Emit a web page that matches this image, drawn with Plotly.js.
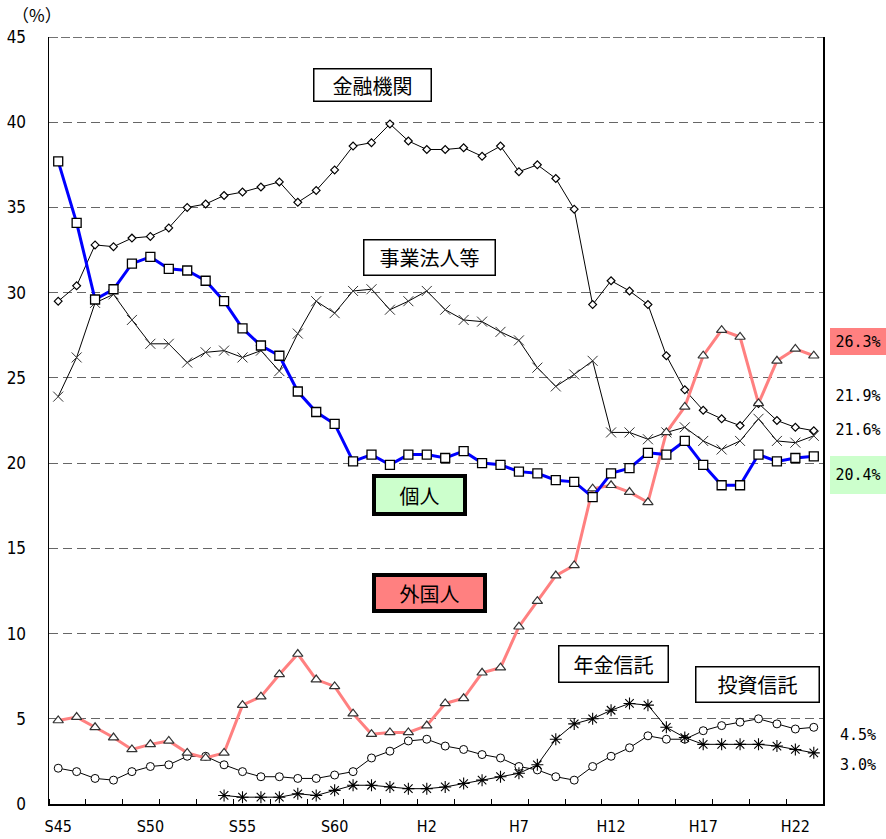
<!DOCTYPE html>
<html>
<head>
<meta charset="utf-8">
<script src="https://cdn.plot.ly/plotly-3.0.1.min.js"></script>
<style>body{margin:0;padding:0;background:#fff;} #chart{width:886px;height:839px;}</style>
</head>
<body>
<div id="chart"></div>
<script>
// Years 1970 (S45) .. 2011 (H23)
const years = [1970,1971,1972,1973,1974,1975,1976,1977,1978,1979,1980,1981,1982,1983,1984,1985,1986,1987,1988,1989,1990,1991,1992,1993,1994,1995,1996,1997,1998,1999,2000,2001,2002,2003,2004,2005,2006,2007,2008,2009,2010,2011];
const tickYears = [1970,1975,1980,1985,1990,1995,2000,2005,2010];
const tickLabels = ['S45','S50','S55','S60','H2','H7','H12','H17','H22'];

const financial = [29.5,30.4,32.8,32.7,33.2,33.3,33.8,35.0,35.2,35.7,35.9,36.2,36.5,35.3,36.0,37.2,38.6,38.8,39.9,38.9,38.4,38.4,38.5,38.0,38.6,37.1,37.5,36.7,34.9,29.3,30.7,30.1,29.3,26.3,24.3,23.1,22.6,22.2,23.5,22.5,22.1,21.9];
const business = [23.9,26.2,29.4,29.9,28.4,27.0,27.0,25.9,26.5,26.6,26.2,26.6,25.4,27.6,29.5,28.8,30.1,30.2,29.0,29.5,30.1,29.0,28.4,28.3,27.7,27.2,25.6,24.5,25.2,26.0,21.8,21.8,21.4,21.8,22.1,21.3,20.8,21.3,22.6,21.3,21.2,21.6];
const individuals = [37.7,34.1,29.6,30.2,31.7,32.1,31.4,31.3,30.7,29.5,27.9,26.9,26.3,24.2,23.0,22.3,20.1,20.5,19.9,20.5,20.5,20.3,20.7,20.0,19.9,19.5,19.4,19.0,18.9,18.0,19.4,19.7,20.6,20.5,21.3,19.9,18.7,18.7,20.5,20.1,20.3,20.4];
const foreigners = [4.9,5.1,4.5,3.9,3.2,3.5,3.7,3.0,2.7,3.0,5.8,6.3,7.6,8.8,7.3,6.9,5.3,4.1,4.2,4.2,4.6,5.9,6.2,7.7,8.0,10.4,11.9,13.4,14.0,18.5,18.7,18.3,17.7,21.8,23.3,26.3,27.8,27.4,23.5,26.0,26.7,26.3];
const investmentTrusts = [2.1,1.9,1.5,1.4,1.9,2.2,2.3,2.8,2.8,2.3,1.9,1.6,1.6,1.5,1.5,1.7,1.9,2.7,3.1,3.7,3.8,3.4,3.2,2.9,2.7,2.2,2.0,1.6,1.4,2.2,2.8,3.3,4.0,3.8,3.8,4.3,4.6,4.8,5.0,4.7,4.4,4.5];
// Pension trusts from 1979 (S54)
const pensionYears = years.slice(9);
const pensionTrusts = [0.5,0.4,0.4,0.4,0.6,0.5,0.8,1.1,1.1,1.0,0.9,0.9,1.0,1.2,1.4,1.6,1.8,2.3,3.8,4.7,5.0,5.5,5.9,5.8,4.5,3.9,3.5,3.5,3.5,3.5,3.4,3.2,3.0];

const traces = [
  {x: years, y: investmentTrusts, name:'投資信託', mode:'lines+markers',
   line:{color:'#000', width:1},
   marker:{symbol:'circle', size:8, color:'#fff', line:{color:'#000', width:1}}},
  {x: pensionYears, y: pensionTrusts, name:'年金信託', mode:'lines+markers',
   line:{color:'#000', width:1},
   marker:{symbol:'asterisk', size:10, color:'#000', line:{color:'#000', width:1.1}}},
  {x: years, y: financial, name:'金融機関', mode:'lines+markers',
   line:{color:'#000', width:1},
   marker:{symbol:'diamond', size:6, color:'#fff', line:{color:'#000', width:1.2}}},
  {x: years, y: business, name:'事業法人等', mode:'lines+markers',
   line:{color:'#000', width:1},
   marker:{symbol:'x-thin', size:10, color:'#333', line:{color:'#333', width:1}}},
  {x: years, y: foreigners, name:'外国人', mode:'lines+markers',
   line:{color:'#ff8080', width:3},
   marker:{symbol:'triangle-up', size:9, color:'#fff', line:{color:'#333', width:1.2}}},
  {x: years, y: individuals, name:'個人', mode:'lines+markers',
   line:{color:'#0000ff', width:3},
   marker:{symbol:'square', size:9, color:'#fff', line:{color:'#000', width:1.3}}}
];

const jp = {family:'"Noto Sans CJK JP", sans-serif', size:20, color:'#000'};
const num = {family:'"DejaVu Sans Mono", monospace', size:15, color:'#000'};
const axisFont = {family:'"Liberation Sans Narrow", "DejaVu Sans Condensed", sans-serif', size:17, color:'#000'};

function box(text, x, y, w, h, bw, bg){
  return {text:text, x:x, y:y, xref:'x', yref:'y', showarrow:false, font:jp,
    width:w, height:h, bordercolor:'#000', borderwidth:bw, borderpad:0, bgcolor:bg,
    xanchor:'center', yanchor:'middle', align:'center', valign:'middle'};
}
function side(text, y, h, bg){
  const a = {text:text, x:1.045, y:y, xref:'paper', yref:'paper', showarrow:false, font:num,
    xanchor:'center', yanchor:'middle', width:56, height:h, borderpad:0, borderwidth:0};
  if(bg) a.bgcolor = bg;
  return a;
}

const layout = {
  width:886, height:839, autosize:false,
  margin:{l:49, r:63, t:37, b:35},
  paper_bgcolor:'#fff', plot_bgcolor:'#fff',
  showlegend:false,
  xaxis:{
    range:[1969.5, 2011.5], tickmode:'array', tickvals:tickYears, ticktext:tickLabels,
    ticks:'', showgrid:false, zeroline:false,
    showline:true, linecolor:'#000', linewidth:1.5,
    tickfont:Object.assign({}, axisFont, {size:16}),
    ticklabelstandoff:7,
    minor:{tickmode:'linear', tick0:1971.5, dtick:2, ticks:'inside', ticklen:5, tickwidth:1, tickcolor:'#000', showgrid:false}
  },
  yaxis:{
    range:[0,45], tickmode:'linear', tick0:0, dtick:5, ticks:'',
    showgrid:true, gridcolor:'#666', gridwidth:1, griddash:'9px,5px', zeroline:false,
    showline:true, mirror:true, linecolor:'#000', linewidth:1.5,
    tickfont:axisFont,
    ticklabelstandoff:18
  },
  shapes:[
    {type:'line', xref:'paper', yref:'y', x0:0, x1:1, y0:45, y1:45,
     line:{color:'#444', width:1.5, dash:'9px,3px'}}
  ],
  annotations:[
    box('金融機関', 1987.05, 42.18, 116, 31, 1.5, '#fff'),
    box('事業法人等', 1990.15, 32.08, 130, 34, 1.5, '#fff'),
    box('個人', 1989.6, 18.12, 87, 34, 4, '#ccffcc'),
    box('外国人', 1990.15, 12.37, 107, 32, 4, '#ff8080'),
    box('年金信託', 2000.13, 8.2, 108, 35, 1.5, '#fff'),
    box('投資信託', 2007.94, 7.0, 122, 34, 1.5, '#fff'),
    side('26.3%', 0.603, 27, '#ff8080'),
    side('21.9%', 0.5318, 20, null),
    side('21.6%', 0.4875, 20, null),
    side('20.4%', 0.4287, 38, '#ccffcc'),
    side('4.5%', 0.0896, 20, null),
    side('3.0%', 0.0505, 20, null),
    {text:'（%）', x:-0.0155, y:1.0287, xref:'paper', yref:'paper', showarrow:false,
     xanchor:'center', yanchor:'middle', font:{family:'"Noto Sans CJK JP", sans-serif', size:17, color:'#000'}}
  ]
};

Plotly.newPlot('chart', traces, layout, {displayModeBar:false, staticPlot:true});
</script>
</body>
</html>
